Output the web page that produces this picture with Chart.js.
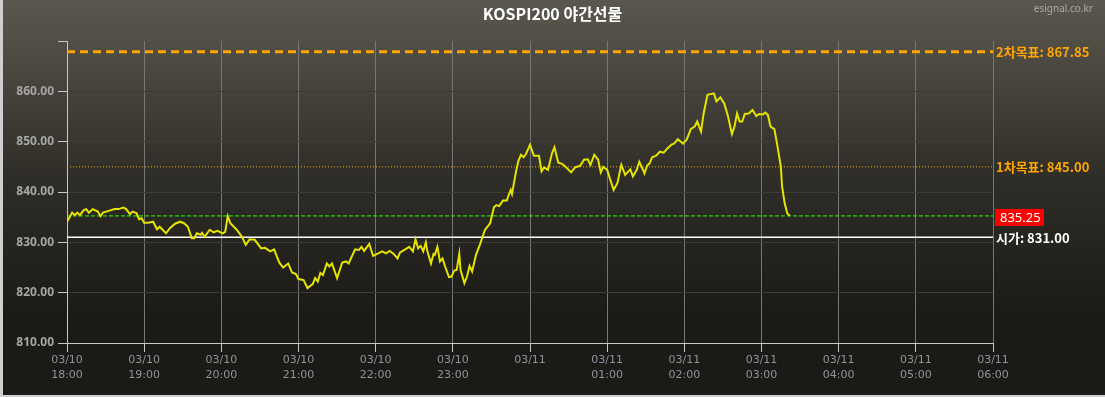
<!DOCTYPE html>
<html>
<head>
<meta charset="utf-8">
<script src="https://cdn.jsdelivr.net/npm/chart.js@4"></script>
<style>
    html, body { margin: 0; padding: 0; background: #1c1a16; }
    canvas { display: block; }
</style>
</head>
<body>
<canvas id="chart" width="1105" height="397"></canvas>
<script>
'use strict';

// Minutes after 03/10 18:00
const minutes = [
    0, 4, 6, 8, 10, 13, 15, 17, 20, 24, 26, 28, 33, 37, 40, 44, 46, 49, 51, 54,
    56, 58, 60, 63, 67, 70, 72, 77, 80, 84, 88, 91, 94, 97, 99, 101, 104, 105, 107, 111,
    114, 117, 121, 123, 125, 127, 132, 136, 139, 142, 146, 151, 154, 158, 161, 165, 168, 172, 175, 178,
    180, 184, 187, 191, 193, 195, 197, 199, 202, 204, 206, 210, 214, 217, 219, 224, 227, 229, 231, 235,
    238, 242, 245, 248, 251, 254, 257, 259, 263, 266, 269, 271, 273, 275, 277, 279, 280, 283, 285, 286,
    288, 290, 292, 294, 297, 299, 301, 303, 305, 306, 309, 311, 313, 315, 318, 321, 325, 327, 329, 332,
    334, 336, 339, 342, 343, 345, 346, 349, 351, 353, 355, 357, 360, 363, 367, 369, 371, 374, 377, 379,
    382, 385, 388, 392, 395, 399, 402, 405, 407, 410, 413, 415, 417, 420, 425, 428, 431, 434, 438, 440,
    443, 445, 447, 449, 451, 453, 455, 458, 461, 464, 467, 470, 472, 475, 479, 482, 485, 488, 490, 493,
    495, 498, 503, 505, 508, 511, 514, 517, 519, 521, 523, 525, 527, 530, 533, 536, 538, 541, 543, 545,
    547, 550, 552, 555, 556, 558, 560, 562
];

// KOSPI200 night futures price
const prices = [
    834.1, 835.9, 835.4, 835.9, 835.4, 836.4, 836.6, 835.9, 836.6, 836.1, 835.2, 835.9, 836.3, 836.6, 836.6, 836.9, 836.6, 835.6, 836.1, 835.8,
    834.6, 834.8, 833.9, 833.9, 834.1, 832.6, 833.1, 831.8, 832.8, 833.7, 834.1, 833.8, 833.1, 830.8, 830.8, 831.8, 831.5, 831.9, 831.1, 832.5,
    832.0, 832.3, 831.8, 832.1, 835.2, 833.8, 832.5, 831.1, 829.5, 830.6, 830.5, 828.8, 828.9, 828.2, 828.6, 826.0, 825.0, 825.8, 824.0, 823.7,
    822.7, 822.5, 820.9, 821.7, 822.9, 822.2, 823.9, 823.5, 825.8, 825.2, 825.8, 822.9, 826.0, 826.2, 825.8, 828.6, 828.5, 829.1, 828.3, 829.7,
    827.3, 827.8, 828.2, 827.8, 828.3, 827.7, 826.8, 828.0, 828.6, 829.1, 828.2, 830.6, 828.8, 829.3, 828.2, 830.0, 828.4, 825.8, 827.7, 827.5,
    829.1, 826.2, 826.8, 825.2, 823.1, 823.2, 824.4, 824.5, 827.7, 824.5, 821.9, 823.2, 825.3, 824.2, 827.5, 829.5, 832.5, 833.1, 833.8, 837.0,
    837.4, 837.2, 838.3, 838.3, 839.1, 840.4, 839.6, 843.9, 846.2, 847.4, 846.9, 847.6, 849.4, 847.2, 847.2, 844.1, 844.9, 844.4, 847.6, 848.9,
    845.8, 845.6, 844.9, 843.9, 844.9, 845.2, 846.4, 846.5, 845.4, 847.4, 846.4, 843.9, 845.0, 844.4, 840.4, 841.8, 845.4, 843.4, 844.5, 843.1,
    844.4, 846.0, 844.9, 843.7, 845.2, 845.7, 846.9, 847.2, 848.0, 847.8, 848.7, 849.4, 849.6, 850.5, 849.6, 850.5, 852.5, 853.0, 854.0, 852.0,
    855.6, 859.3, 859.6, 858.0, 858.8, 857.6, 855.0, 851.5, 853.0, 855.6, 854.0, 854.0, 855.5, 855.6, 856.3, 855.1, 855.5, 855.4, 855.8, 855.3,
    853.0, 852.5, 849.7, 845.1, 841.1, 837.8, 835.8, 835.25
];

// X axis tick labels (one per hour)
const tickDates = ['03/10', '03/10', '03/10', '03/10', '03/10', '03/10', '03/11', '03/11', '03/11', '03/11', '03/11', '03/11', '03/11'];
const tickTimes = ['18:00', '19:00', '20:00', '21:00', '22:00', '23:00', '', '01:00', '02:00', '03:00', '04:00', '05:00', '06:00'];

// Reference levels
const target2 = 867.85;
const target1 = 845.00;
const lastPrice = 835.25;
const openPrice = 831.00;

const xMin = 0, xMax = 720;

function flatLine(value) {
    return [{ x: xMin, y: value }, { x: xMax, y: value }];
}

// Background, border, title and right side labels
const decorPlugin = {
    id: 'decor',
    beforeDraw(chart) {
        const ctx = chart.ctx;
        const w = chart.width, h = chart.height;
        const grad = ctx.createLinearGradient(0, 0, 0, h);
        grad.addColorStop(0, '#5a584e');
        grad.addColorStop(0.45, '#2f2d27');
        grad.addColorStop(0.8, '#1c1a16');
        grad.addColorStop(1, '#1c1a16');
        ctx.save();
        ctx.fillStyle = grad;
        ctx.fillRect(0, 0, w, h);
        ctx.fillStyle = '#cfcfcf';
        ctx.fillRect(0, 0, 3, h);
        ctx.fillRect(0, h - 2, w, 2);
        ctx.restore();
    },
    afterDraw(chart) {
        const ctx = chart.ctx;
        const y = chart.scales.y;
        const lx = chart.chartArea.right + 3;
        ctx.save();

        // Title
        ctx.fillStyle = '#ffffff';
        ctx.font = 'bold 16px "Noto Sans CJK KR", "Noto Sans"';
        ctx.textAlign = 'center';
        ctx.textBaseline = 'middle';
        ctx.fillText('KOSPI200 야간선물', chart.width / 2, 14);

        // Source
        ctx.fillStyle = '#a8a8a8';
        ctx.font = '10px "Noto Sans", "DejaVu Sans"';
        ctx.textAlign = 'right';
        ctx.fillText('esignal.co.kr', 1093, 9);

        // Level labels
        ctx.textAlign = 'left';
        ctx.font = 'bold 13px "Noto Sans CJK KR", "Noto Sans"';
        ctx.fillStyle = '#ffa500';
        ctx.fillText('2차목표: ' + target2.toFixed(2), lx, y.getPixelForValue(target2));
        ctx.fillText('1차목표: ' + target1.toFixed(2), lx, y.getPixelForValue(target1));

        ctx.fillStyle = '#ffffff';
        ctx.fillText('시가: ' + openPrice.toFixed(2), lx, y.getPixelForValue(openPrice) + 1);

        // Last price box
        const py = y.getPixelForValue(lastPrice);
        ctx.fillStyle = '#ff0000';
        ctx.fillRect(lx - 1, py - 7, 49, 17);
        ctx.fillStyle = '#ffffff';
        ctx.font = '13px "Noto Sans", "DejaVu Sans"';
        ctx.fillText(lastPrice.toFixed(2), lx + 4, py + 2);
        ctx.restore();
    }
};

new Chart(document.getElementById('chart').getContext('2d'), {
    type: 'line',
    data: {
        datasets: [{
            label: 'KOSPI200',
            data: minutes.map((m, i) => ({ x: m, y: prices[i] })),
            borderColor: '#e4e400',
            borderWidth: 2,
            pointRadius: 0,
            tension: 0
        }, {
            label: '2차목표',
            data: flatLine(target2),
            borderColor: '#ffa500',
            borderWidth: 3,
            borderDash: [8, 5],
            pointRadius: 0
        }, {
            label: '1차목표',
            data: flatLine(target1),
            borderColor: '#ffa500',
            borderWidth: 1,
            borderDash: [1, 2],
            pointRadius: 0
        }, {
            label: '현재가',
            data: flatLine(lastPrice),
            borderColor: '#33ff00',
            borderWidth: 1,
            borderDash: [4, 2],
            pointRadius: 0
        }, {
            label: '시가',
            data: flatLine(openPrice),
            borderColor: '#ffffff',
            borderWidth: 1.5,
            pointRadius: 0
        }]
    },
    options: {
        responsive: false,
        animation: false,
        devicePixelRatio: 1,
        layout: {
            padding: { top: 41, right: 112, bottom: 0, left: 0 }
        },
        plugins: {
            legend: { display: false },
            tooltip: { enabled: false }
        },
        scales: {
            x: {
                type: 'linear',
                min: xMin,
                max: xMax,
                afterFit: (scale) => { scale.height = 54; },
                border: { color: '#c8c8c8', width: 1 },
                grid: {
                    color: '#767676',
                    tickColor: '#c8c8c8',
                    tickLength: 9
                },
                ticks: {
                    stepSize: 60,
                    maxRotation: 0,
                    autoSkip: false,
                    padding: 1,
                    color: '#8c949c',
                    font: { family: '"DejaVu Sans"', size: 11, lineHeight: 1.35 },
                    callback: (v) => {
                        const i = Math.round(v / 60);
                        return tickTimes[i] ? [tickDates[i], tickTimes[i]] : [tickDates[i]];
                    }
                }
            },
            y: {
                min: 810,
                max: 870,
                afterFit: (scale) => { scale.width = 67; },
                border: { color: '#c8c8c8', width: 1 },
                grid: {
                    color: (c) => c.tick && c.tick.value === 870 ? 'rgba(0,0,0,0)' : '#3e3c37',
                    tickColor: '#c8c8c8',
                    tickLength: 9
                },
                ticks: {
                    stepSize: 10,
                    padding: 4,
                    color: '#a6a6a6',
                    font: { family: '"Noto Sans"', size: 12, weight: 'bold' },
                    callback: (v) => v === 870 ? '' : v.toFixed(2)
                }
            }
        }
    },
    plugins: [decorPlugin]
});
</script>
</body>
</html>
